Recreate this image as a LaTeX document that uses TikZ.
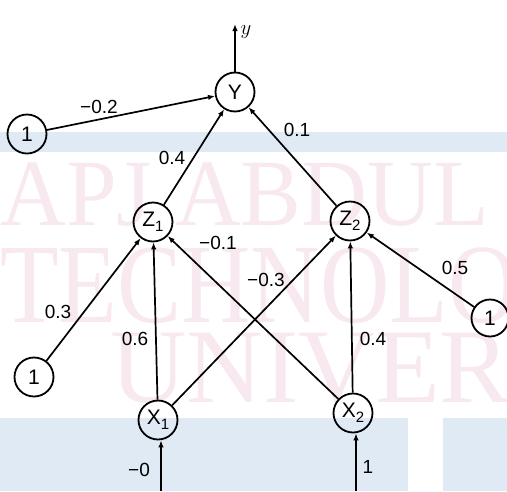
\documentclass[tikz,border=0pt]{standalone}
\usepackage{fontspec}
\setmainfont{Liberation Sans}
\newfontfamily\wmfont{Liberation Serif}
\usetikzlibrary{arrows.meta}
\definecolor{bandblue}{RGB}{223,234,245}
\definecolor{wmpink}{RGB}{248,233,240}
\begin{document}
\begin{tikzpicture}[x=1pt,y=-1pt,
  neuron/.style={circle,draw,line width=1.8pt,minimum size=39pt,inner sep=0pt,font=\fontsize{21}{21}\selectfont},
  conn/.style={line width=1.7pt,-{Latex[length=7pt,width=5.5pt]}},
  wlabel/.style={font=\fontsize{19}{19}\selectfont,inner sep=0pt},
  wm/.style={text=wmpink,inner sep=0pt,anchor=base west}]
\useasboundingbox (0,0) rectangle (507,491);
\begin{scope}
  \clip (0,0) rectangle (507,491);
  \fill[bandblue] (0,132) rectangle (507,152);
  \fill[bandblue] (0,418) rectangle (408,491);
  \fill[bandblue] (443,418) rectangle (507,491);
  \node[wm] (wm1) at (0,225) {\scalebox{0.96}[1]{\wmfont\fontsize{95}{95}\selectfont APJ ABDUL}};
  \node[wm] (wm2) at (0,322) {\scalebox{0.85}[1]{\wmfont\fontsize{113}{113}\selectfont TECHNOLOG}};
  \node[wm] (wm3) at (110,402) {\scalebox{1.0}[1]{\wmfont\fontsize{106}{106}\selectfont UNIVER}};
\end{scope}

\node[neuron] (Y)  at (235,92)  {Y};
\node[neuron] (B1) at (27,134)  {1};
\node[neuron] (Z1) at (153,222) {Z\raisebox{-0.45ex}{\fontsize{15}{15}\selectfont 1}};
\node[neuron] (Z2) at (350,221) {Z\raisebox{-0.45ex}{\fontsize{15}{15}\selectfont 2}};
\node[neuron,minimum size=37pt] (B2) at (490,318) {1};
\node[neuron] (B3) at (34,377)  {1};
\node[neuron] (X1) at (158,420) {X\raisebox{-0.45ex}{\fontsize{15}{15}\selectfont 1}};
\node[neuron] (X2) at (353,413) {X\raisebox{-0.45ex}{\fontsize{15}{15}\selectfont 2}};

\coordinate (yout) at (235,24);
\coordinate (in1) at (161,491);
\coordinate (in2) at (356,491);

\draw[conn] (Y) -- (yout);
\draw[conn] (in1) -- (in1 |- X1.south);
\draw[conn] (in2) -- (in2 |- X2.south);
\draw[conn] (B1) -- (Y);
\draw[conn] (Z1) -- (Y);
\draw[conn] (Z2) -- (Y);
\draw[conn] (B3) -- (Z1);
\draw[conn] (X1) -- (Z1);
\draw[conn] (X2) -- (Z1);
\draw[conn] (X1) -- (Z2);
\draw[conn] (X2) -- (Z2);
\draw[conn] (B2) -- (Z2);

\node[font=\fontsize{22}{22}\selectfont,inner sep=0pt] (ylab) at (246,32) {$y$};
\node[wlabel] (l1) at (99,107) {−0.2};
\node[wlabel] (l2) at (172,158) {0.4};
\node[wlabel] (l3) at (297,130) {0.1};
\node[wlabel] (l4) at (58,312) {0.3};
\node[wlabel] (l5) at (135,339) {0.6};
\node[wlabel] (l6) at (218,243) {−0.1};
\node[wlabel] (l7) at (266,280) {−0.3};
\node[wlabel] (l8) at (455,268) {0.5};
\node[wlabel] (l9) at (373,339) {0.4};
\node[wlabel] (l10) at (139,470) {−0};
\node[wlabel] (l11) at (368,467) {1};
\end{tikzpicture}
\end{document}
